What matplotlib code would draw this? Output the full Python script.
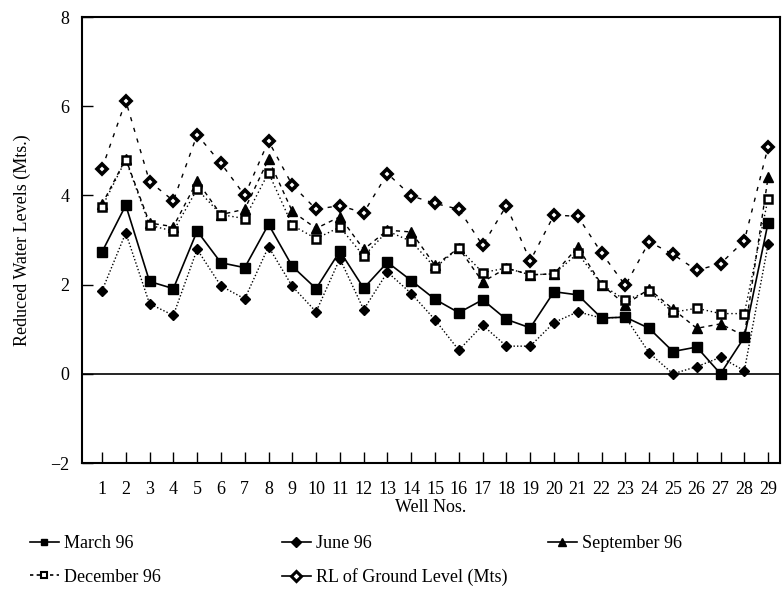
import matplotlib
matplotlib.use("Agg")
import matplotlib.pyplot as plt
from matplotlib.lines import Line2D

plt.rcParams['font.family'] = ['Liberation Serif', 'DejaVu Serif']

wells = list(range(1, 30))
march = [2.73, 3.78, 2.07, 1.91, 3.20, 2.49, 2.38, 3.35, 2.41, 1.91,
         2.75, 1.92, 2.50, 2.09, 1.67, 1.37, 1.66, 1.22, 1.03, 1.84,
         1.77, 1.25, 1.27, 1.02, 0.50, 0.60, 0.00, 0.82, 3.39]
june = [1.86, 3.16, 1.57, 1.31, 2.79, 1.97, 1.68, 2.85, 1.96, 1.39,
        2.58, 1.44, 2.28, 1.80, 1.21, 0.53, 1.09, 0.62, 0.62, 1.15,
        1.39, 1.25, 1.27, 0.47, 0.00, 0.16, 0.37, 0.07, 2.90]
september = [3.80, 4.82, 3.38, 3.30, 4.32, 3.57, 3.69, 4.81, 3.64, 3.26,
             3.52, 2.79, 3.22, 3.18, 2.43, 2.82, 2.06, 2.37, 2.22, 2.24,
             2.84, 2.00, 1.55, 1.90, 1.45, 1.02, 1.12, 0.85, 4.41]
december = [3.74, 4.80, 3.33, 3.20, 4.14, 3.57, 3.48, 4.51, 3.33, 3.03,
            3.29, 2.64, 3.20, 2.97, 2.38, 2.82, 2.27, 2.37, 2.22, 2.24,
            2.70, 2.00, 1.65, 1.85, 1.38, 1.47, 1.35, 1.35, 3.93]
ground = [4.60, 6.12, 4.31, 3.88, 5.36, 4.72, 4.00, 5.22, 4.23, 3.69,
          3.77, 3.61, 4.49, 3.99, 3.82, 3.69, 2.88, 3.77, 2.53, 3.56,
          3.53, 2.71, 1.98, 2.96, 2.68, 2.32, 2.47, 2.98, 5.09]
yticks = [-2, 0, 2, 4, 6, 8]

fig = plt.figure(figsize=(7.82, 5.91), dpi=100)
ax = fig.add_axes([82/782, 128/591, (780-82)/782, (463-17)/591])

lw = 1.0
ax.plot(wells, ground, color='black', lw=lw, ls=(0, (3, 5)), marker='D', ms=5.5,
        mfc='white', mec='black', mew=2.6, label='RL of Ground Level (Mts)', zorder=3)
ax.plot(wells, september, color='black', lw=lw, ls=(0, (3, 3)), marker='^', ms=6.5,
        mfc='black', mec='black', label='September 96', zorder=4)
ax.plot(wells, december, color='black', lw=lw, ls=(0, (1, 2)), marker='s', ms=6,
        mfc='white', mec='black', mew=1.8, label='December 96', zorder=5)
ax.plot(wells, march, color='black', lw=1.2, ls='-', marker='s', ms=6.5,
        mfc='black', mec='black', label='March 96', zorder=6)
ax.plot(wells, june, color='black', lw=lw, ls=(0, (1, 1.5)), marker='D', ms=5.5,
        mfc='black', mec='black', label='June 96', zorder=6)

ax.axhline(0, color='black', lw=1.2, zorder=2)

ax.set_xlim(0.16, 29.5)
ax.set_ylim(-2, 8)
ax.set_xticks(wells)
ax.set_xticklabels([str(w) for w in wells])
ax.set_yticks(yticks)
ax.set_yticklabels(['\u22122' if v < 0 else str(v) for v in yticks])
ax.tick_params(direction='in', length=8, width=1, labelsize=13, colors='black')
ax.tick_params(axis='x', pad=13)
ax.tick_params(axis='y', pad=9)
for s in ax.spines.values():
    s.set_linewidth(1.5)

ax.set_xlabel('Well Nos.', fontsize=13, labelpad=1)
ax.set_ylabel('Reduced Water Levels (Mts.)', fontsize=13, labelpad=14)

handles = {
    'March 96': Line2D([], [], color='black', lw=1.2, marker='s', ms=5, mfc='black'),
    'June 96': Line2D([], [], color='black', lw=1.2, marker='D', ms=5, mfc='black'),
    'September 96': Line2D([], [], color='black', lw=1.2, marker='^', ms=6, mfc='black'),
    'December 96': Line2D([], [], color='black', lw=1.2, ls=(0, (2, 2)), marker='s', ms=5,
                          mfc='white', mew=1.5),
    'RL of Ground Level (Mts)': Line2D([], [], color='black', lw=1.2, marker='D', ms=5,
                                       mfc='white', mew=2.2),
}
positions = [('March 96', 30, 544), ('June 96', 282, 544), ('September 96', 548, 544),
             ('December 96', 30, 577), ('RL of Ground Level (Mts)', 282, 577)]
for name, xp, yp in positions:
    fig.legend([handles[name]], [name], loc='center left',
               bbox_to_anchor=(xp/782, 1 - yp/591), frameon=False,
               fontsize=13, handlelength=1.6, handletextpad=0.3,
               borderpad=0, borderaxespad=0)

fig.savefig('out.png', dpi=100)
